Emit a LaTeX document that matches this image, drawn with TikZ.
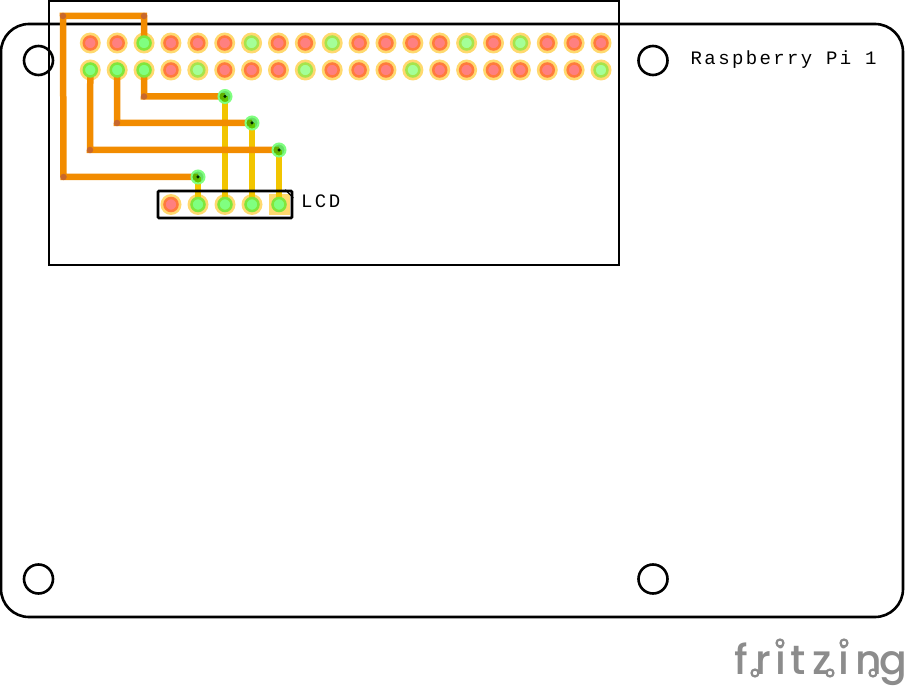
\documentclass[tikz,border=0pt]{standalone}
\usepackage{fontspec}
\newfontfamily\boardfont[LetterSpace=12.5]{Liberation Mono}
\newfontfamily\logofont{Poppins Medium}
\newcommand{\logocell}[2]{\makebox[#1pt][c]{#2}}
\definecolor{padgold}{HTML}{FFD96E}
\definecolor{padred}{HTML}{FF8080}
\definecolor{padredring}{HTML}{FF7B3C}
\definecolor{padgreen}{HTML}{80FF80}
\definecolor{padgreenring}{HTML}{80E63C}
\definecolor{padpale}{HTML}{A4FF98}
\definecolor{padpalering}{HTML}{A6E44C}
\definecolor{wireorange}{HTML}{F28C00}
\definecolor{wireyellow}{HTML}{F2C500}
\definecolor{joint}{HTML}{C8682C}
\definecolor{logogrey}{HTML}{8C8C8C}
\begin{document}
\begin{tikzpicture}[x=1pt,y=-1pt]
	\tikzstyle{padring}=[circle,fill=padgold,minimum size=21pt,inner sep=0pt]
	\tikzstyle{redpad}=[circle,fill=padred,draw=padredring,line width=2.5pt,minimum size=13pt,inner sep=0pt]
	\tikzstyle{greenpad}=[circle,fill=padgreen,draw=padgreenring,line width=2.5pt,minimum size=13pt,inner sep=0pt]
	\tikzstyle{palepad}=[circle,fill=padpale,draw=padpalering,line width=2.5pt,minimum size=13pt,inner sep=0pt]
	\tikzstyle{via}=[circle,fill=green!80!black,draw=green!50,line width=2pt,minimum size=13pt,inner sep=0pt,fill opacity=0.6]
	\tikzstyle{viadot}=[circle,fill=black!85!green,minimum size=3.5pt,inner sep=0pt]
	\tikzstyle{jointdot}=[circle,fill=joint,minimum size=6.5pt,inner sep=0pt]
	\tikzstyle{orangewire}=[wireorange,line width=6.5pt]
	\tikzstyle{yellowwire}=[wireyellow,line width=6pt]
	\tikzstyle{mounthole}=[circle,draw=black,line width=2.6pt,minimum size=29pt,inner sep=0pt]
	\tikzstyle{boardlabel}=[font=\boardfont\fontsize{19}{19}\selectfont,inner sep=0pt,anchor=base west]
	\tikzstyle{logoring}=[circle,draw=logogrey,fill=white,line width=2.2pt,minimum size=7pt,inner sep=0pt]
	\useasboundingbox (0,0) rectangle (906,687);
	% board and module outlines
	\node[draw=black,line width=2.6pt,rounded corners=28pt,minimum width=902pt,minimum height=593pt,inner sep=0pt] (board) at (452,320.5) {};
	\node[draw=black,line width=2.6pt,minimum width=570pt,minimum height=264pt,inner sep=0pt] (hat) at (334,133) {};
	\node[mounthole] (hole-a) at (38.5,60.5) {};
	\node[mounthole] (hole-b) at (653,60.5) {};
	\node[mounthole] (hole-c) at (38.5,579) {};
	\node[mounthole] (hole-d) at (653,579) {};
	% gold rings of the pads
	\foreach \i in {0,...,19} {
		\node[padring] (top-\i) at (90.3+26.88*\i,43) {};
		\node[padring] (bot-\i) at (90.3+26.88*\i,70) {};
	}
	\node[padring] (lcd-0) at (171,204.5) {};
	\node[padring] (lcd-1) at (198,204.5) {};
	\node[padring] (lcd-2) at (225,204.5) {};
	\node[padring] (lcd-3) at (252,204.5) {};
	\node[fill=padgold,minimum size=21pt,inner sep=0pt] (lcd-4) at (279,204.5) {};
	% bends of the wires
	\node[inner sep=0pt] (bend-a) at (144,16) {};
	\node[inner sep=0pt] (bend-b) at (63,16) {};
	\node[inner sep=0pt] (bend-c) at (63.5,177) {};
	\node[inner sep=0pt] (bend-d) at (90,150) {};
	\node[inner sep=0pt] (bend-e) at (117,123) {};
	\node[inner sep=0pt] (bend-f) at (144,96.5) {};
	\node[inner sep=0pt] (via-a) at (198,177) {};
	\node[inner sep=0pt] (via-b) at (225,96.5) {};
	\node[inner sep=0pt] (via-c) at (252,123) {};
	\node[inner sep=0pt] (via-d) at (279,150) {};
	% wires
	\draw[yellowwire] (via-a.center) -- (lcd-1.center);
	\draw[yellowwire] (via-b.center) -- (lcd-2.center);
	\draw[yellowwire] (via-c.center) -- (lcd-3.center);
	\draw[yellowwire] (via-d.center) -- (lcd-4.center);
	\draw[orangewire] (top-2.center) -- (bend-a.center) -- (bend-b.center) -- (bend-c.center) -- (via-a.center);
	\draw[orangewire] (bot-0.center) -- (bend-d.center) -- (via-d.center);
	\draw[orangewire] (bot-1.center) -- (bend-e.center) -- (via-c.center);
	\draw[orangewire] (bot-2.center) -- (bend-f.center) -- (via-b.center);
	\foreach \n in {a,...,f}
		\node[jointdot] (dot-\n) at (bend-\n) {};
	% pad centres
	\foreach \i in {0,1,3,4,5,7,8,10,11,12,13,15,17,18,19}
		\node[redpad] (topc-\i) at (top-\i) {};
	\foreach \i in {3,5,6,7,9,10,11,13,14,15,16,17,18}
		\node[redpad] (botc-\i) at (bot-\i) {};
	\node[redpad] (lcdc-0) at (lcd-0) {};
	\foreach \i in {6,9,14,16}
		\node[palepad] (topc-\i) at (top-\i) {};
	\foreach \i in {4,8,12,19}
		\node[palepad] (botc-\i) at (bot-\i) {};
	\node[greenpad] (topc-2) at (top-2) {};
	\foreach \i in {0,1,2}
		\node[greenpad] (botc-\i) at (bot-\i) {};
	\foreach \i in {1,2,3,4}
		\node[greenpad] (lcdc-\i) at (lcd-\i) {};
	% vias
	\foreach \n in {a,b,c,d} {
		\node[via] (viaring-\n) at (via-\n) {};
		\node[viadot] (viac-\n) at (via-\n) {};
	}
	% header outline
	\node[draw=black,line width=2.6pt,rounded corners=1pt,minimum width=134pt,minimum height=27pt,inner sep=0pt] (lcdbox) at (225,204.5) {};
	\draw[black,line width=1.2pt] (lcdbox.north east) ++(-8,0) coordinate (notch) -- (lcdbox.north east |- 0,198);
	% labels
	\node[boardlabel] (pilabel) at (690.5,65) {Raspberry Pi 1};
	\node[boardlabel] (lcdlabel) at (301,208) {LCD};
	\node[font=\logofont\fontsize{41}{41}\selectfont,text=logogrey,inner sep=0pt,anchor=base west] (logo) at (731,674) {\logocell{20}{f}\logocell{24}{r}\logocell{12}{i}\logocell{21}{t}\logocell{27}{z}\logocell{18}{i}\logocell{32}{n}\logocell{17}{g}};
	% rings of the logo
	\node[logoring] (logo-a) at (780,643) {};
	\node[logoring] (logo-b) at (844,643) {};
	\node[logoring] (logo-c) at (755,673) {};
	\node[logoring] (logo-d) at (830,673) {};
	\node[logoring] (logo-e) at (873,673) {};
\end{tikzpicture}
\end{document}
